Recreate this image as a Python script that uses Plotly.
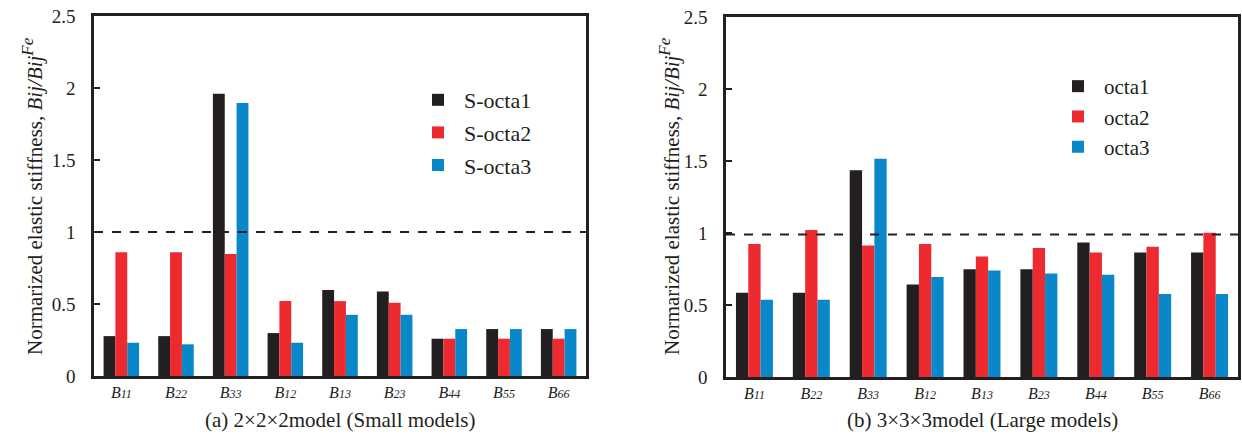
import plotly.graph_objects as go

categories = ["B11", "B22", "B33", "B12", "B13", "B23", "B44", "B55", "B66"]
tick_labels = [
    "<i>B<span style='font-size:12px'>11</span></i>",
    "<i>B<span style='font-size:12px'>22</span></i>",
    "<i>B<span style='font-size:12px'>33</span></i>",
    "<i>B<span style='font-size:12px'>12</span></i>",
    "<i>B<span style='font-size:12px'>13</span></i>",
    "<i>B<span style='font-size:12px'>23</span></i>",
    "<i>B<span style='font-size:12px'>44</span></i>",
    "<i>B<span style='font-size:12px'>55</span></i>",
    "<i>B<span style='font-size:12px'>66</span></i>",
]

# (a) 2x2x2 model (Small models)
small_names = ["S-octa1", "S-octa2", "S-octa3"]
s_octa1 = [0.277, 0.277, 1.96, 0.298, 0.598, 0.587, 0.259, 0.326, 0.326]
s_octa2 = [0.86, 0.86, 0.848, 0.52, 0.52, 0.508, 0.259, 0.259, 0.259]
s_octa3 = [0.231, 0.22, 1.895, 0.231, 0.425, 0.425, 0.326, 0.326, 0.326]

# (b) 3x3x3 model (Large models)
large_names = ["octa1", "octa2", "octa3"]
octa1 = [0.585, 0.585, 1.436, 0.643, 0.749, 0.749, 0.934, 0.865, 0.865]
octa2 = [0.923, 1.02, 0.913, 0.923, 0.837, 0.895, 0.865, 0.904, 1.001]
octa3 = [0.537, 0.537, 1.515, 0.694, 0.740, 0.719, 0.710, 0.576, 0.576]

ref_small = 1.0
ref_large = 0.99

colors = ["#231f20", "#ec2a30", "#0a87c9"]
FONT = "Liberation Serif"
W, H = 1242, 441


def px(xs):
    return xs / W


def py(ys):
    return 1 - ys / H


fig = go.Figure()

for name, vals, col, i in zip(small_names, [s_octa1, s_octa2, s_octa3], colors, range(3)):
    fig.add_trace(go.Bar(x=categories, y=vals, name=name, marker=dict(color=col, line=dict(width=0)),
                         xaxis="x", yaxis="y", legend="legend", legendgroup="a%d" % i))
for name, vals, col, i in zip(large_names, [octa1, octa2, octa3], colors, range(3)):
    fig.add_trace(go.Bar(x=categories, y=vals, name=name, marker=dict(color=col, line=dict(width=0)),
                         xaxis="x2", yaxis="y2", legend="legend2", legendgroup="b%d" % i))

axis_line = dict(showline=True, linecolor="#231f20", linewidth=2.5, mirror=True, showgrid=False,
                 zeroline=False, automargin=False)


def xax(domain, anchor):
    return dict(domain=domain, anchor=anchor, type="category", range=[-0.5, 8.5],
                tickmode="array", tickvals=categories, ticktext=tick_labels,
                ticks="", tickfont=dict(family=FONT, size=16, color="#231f20"), **axis_line)


def yax(domain, anchor):
    return dict(domain=domain, anchor=anchor, range=[0, 2.5], tickmode="array",
                tickvals=[0, 0.5, 1, 1.5, 2, 2.5], ticktext=["0", "0.5", "1", "1.5", "2", "2.5"],
                ticks="inside", ticklen=6, tickwidth=2, tickcolor="#231f20",
                ticklabelstandoff=12, ticklabeloverflow="allow",
                tickfont=dict(family=FONT, size=19, color="#231f20"), **axis_line)


fig.update_layout(
    width=W, height=H,
    margin=dict(l=0, r=0, t=0, b=0, autoexpand=False),
    paper_bgcolor="white", plot_bgcolor="white",
    barmode="group", bargap=0.35, bargroupgap=0,
    font=dict(family=FONT, color="#231f20"),
    xaxis=xax([px(94), px(586)], "y"),
    yaxis=yax([py(376), py(16)], "x"),
    xaxis2=xax([px(726), px(1238)], "y2"),
    yaxis2=yax([py(377), py(17)], "x2"),
    legend=dict(x=px(412), y=py(79), xanchor="left", yanchor="top", itemwidth=42,
                font=dict(family=FONT, size=22, color="#231f20"), bgcolor="rgba(0,0,0,0)",
                tracegroupgap=1),
    legend2=dict(x=px(1052), y=py(66), xanchor="left", yanchor="top", itemwidth=42,
                 font=dict(family=FONT, size=21, color="#231f20"), bgcolor="rgba(0,0,0,0)",
                 tracegroupgap=0),
    shapes=[
        dict(type="line", xref="x domain", yref="y", x0=0, x1=1, y0=ref_small, y1=ref_small,
             line=dict(color="#231f20", width=2, dash="dash")),
        dict(type="line", xref="x2 domain", yref="y2", x0=0, x1=1, y0=ref_large, y1=ref_large,
             line=dict(color="#231f20", width=2, dash="dash")),
    ],
    annotations=[
        dict(text="(a) 2×2×2model (Small models)", x=px(340), y=py(420), xref="paper", yref="paper",
             showarrow=False, xanchor="center", yanchor="middle",
             font=dict(family=FONT, size=21, color="#231f20")),
        dict(text="(b) 3×3×3model (Large models)", x=px(982), y=py(420), xref="paper", yref="paper",
             showarrow=False, xanchor="center", yanchor="middle",
             font=dict(family=FONT, size=21, color="#231f20")),
        dict(text="Normarized elastic stiffness, <i>Bij/Bij</i><sup><i><span style='font-size:17px'>Fe</span></i></sup>",
             x=px(32), y=py(196), xref="paper", yref="paper", textangle=-90,
             showarrow=False, xanchor="center", yanchor="middle",
             font=dict(family=FONT, size=21, color="#231f20")),
        dict(text="Normarized elastic stiffness, <i>Bij/Bij</i><sup><i><span style='font-size:17px'>Fe</span></i></sup>",
             x=px(669), y=py(196), xref="paper", yref="paper", textangle=-90,
             showarrow=False, xanchor="center", yanchor="middle",
             font=dict(family=FONT, size=21, color="#231f20")),
    ],
)

# remove the default 8px body margin so the figure sits exactly in the window
fig.write_html("out.html", config={"displayModeBar": False},
               post_script="document.body.style.margin='0';document.body.style.overflow='hidden';")
